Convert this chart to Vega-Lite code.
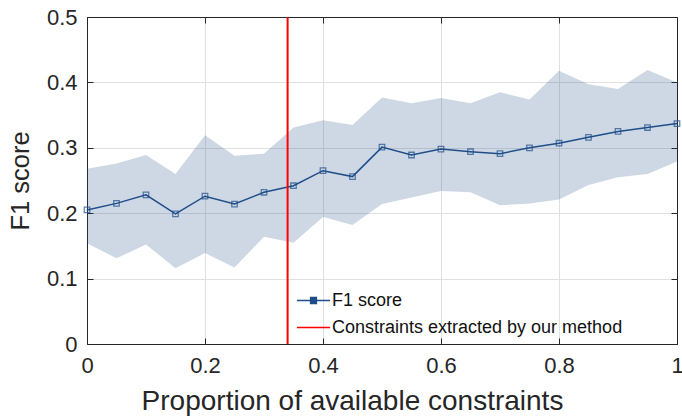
{
  "$schema": "https://vega.github.io/schema/vega-lite/v6.json",
  "width": 590,
  "height": 327,
  "autosize": {"type": "none"},
  "padding": {"left": 87, "top": 17, "right": 5, "bottom": 73},
  "background": "white",
  "config": {
    "font": "Liberation Sans",
    "view": {"stroke": null},
    "axis": {
      "labelFont": "Liberation Sans",
      "titleFont": "Liberation Sans",
      "labelFontSize": 22,
      "titleFontSize": 28,
      "titleFontWeight": "normal",
      "labelColor": "#262626",
      "titleColor": "#262626",
      "domainColor": "#262626",
      "tickColor": "#262626",
      "gridColor": "#e0e0e0",
      "gridWidth": 1,
      "tickSize": -6,
      "domainWidth": 1
    }
  },
  "datasets": {
    "f1": [
      {"x": 0.00, "f1": 0.205, "lo": 0.154, "hi": 0.268, "series": "F1 score"},
      {"x": 0.05, "f1": 0.215, "lo": 0.131, "hi": 0.276, "series": "F1 score"},
      {"x": 0.10, "f1": 0.228, "lo": 0.152, "hi": 0.289, "series": "F1 score"},
      {"x": 0.15, "f1": 0.199, "lo": 0.116, "hi": 0.260, "series": "F1 score"},
      {"x": 0.20, "f1": 0.226, "lo": 0.139, "hi": 0.319, "series": "F1 score"},
      {"x": 0.25, "f1": 0.214, "lo": 0.117, "hi": 0.288, "series": "F1 score"},
      {"x": 0.30, "f1": 0.232, "lo": 0.164, "hi": 0.291, "series": "F1 score"},
      {"x": 0.35, "f1": 0.242, "lo": 0.155, "hi": 0.331, "series": "F1 score"},
      {"x": 0.40, "f1": 0.265, "lo": 0.194, "hi": 0.342, "series": "F1 score"},
      {"x": 0.45, "f1": 0.256, "lo": 0.182, "hi": 0.335, "series": "F1 score"},
      {"x": 0.50, "f1": 0.301, "lo": 0.214, "hi": 0.377, "series": "F1 score"},
      {"x": 0.55, "f1": 0.289, "lo": 0.224, "hi": 0.368, "series": "F1 score"},
      {"x": 0.60, "f1": 0.298, "lo": 0.234, "hi": 0.376, "series": "F1 score"},
      {"x": 0.65, "f1": 0.294, "lo": 0.232, "hi": 0.368, "series": "F1 score"},
      {"x": 0.70, "f1": 0.291, "lo": 0.212, "hi": 0.385, "series": "F1 score"},
      {"x": 0.75, "f1": 0.300, "lo": 0.215, "hi": 0.374, "series": "F1 score"},
      {"x": 0.80, "f1": 0.307, "lo": 0.221, "hi": 0.418, "series": "F1 score"},
      {"x": 0.85, "f1": 0.316, "lo": 0.243, "hi": 0.397, "series": "F1 score"},
      {"x": 0.90, "f1": 0.325, "lo": 0.255, "hi": 0.390, "series": "F1 score"},
      {"x": 0.95, "f1": 0.331, "lo": 0.260, "hi": 0.419, "series": "F1 score"},
      {"x": 1.00, "f1": 0.337, "lo": 0.279, "hi": 0.400, "series": "F1 score"}
    ],
    "vline": [
      {"x": 0.34, "series": "Constraints extracted by our method"}
    ]
  },
  "resolve": {"axis": {"x": "independent", "y": "independent"}},
  "layer": [
    {
      "data": {"name": "f1"},
      "mark": {"type": "area", "fill": "#1f4e89", "opacity": 0.22},
      "encoding": {
        "x": {
          "field": "x", "type": "quantitative",
          "scale": {"domain": [0, 1], "nice": false, "zero": false},
          "axis": {"orient": "bottom", "values": [0, 0.2, 0.4, 0.6, 0.8, 1], "format": ".1~f", "labelFlush": false, "title": "Proportion of available constraints", "labelPadding": 17, "titlePadding": 11, "titleX": 265, "titleAlign": "center"}
        },
        "y": {
          "field": "lo", "type": "quantitative",
          "scale": {"domain": [0, 0.5], "nice": false},
          "axis": {"orient": "left", "values": [0, 0.1, 0.2, 0.3, 0.4, 0.5], "format": ".1~f", "labelFlush": false, "title": "F1 score", "titleFontSize": 25.5, "labelPadding": 16, "titlePadding": 13}
        },
        "y2": {"field": "hi"}
      }
    },
    {
      "data": {"name": "f1"},
      "mark": {"type": "line", "strokeWidth": 1.5},
      "encoding": {
        "x": {
          "field": "x", "type": "quantitative",
          "axis": {"orient": "top", "values": [0, 0.2, 0.4, 0.6, 0.8, 1], "labels": false, "grid": false, "title": null}
        },
        "y": {
          "field": "f1", "type": "quantitative",
          "axis": {"orient": "right", "values": [0, 0.1, 0.2, 0.3, 0.4, 0.5], "labels": false, "grid": false, "title": null}
        },
        "color": {
          "field": "series", "type": "nominal",
          "scale": {"domain": ["F1 score", "Constraints extracted by our method"], "range": ["#1f4e89", "#ff0000"]},
          "legend": {
            "title": null, "orient": "none", "legendX": 209, "legendY": 266,
            "labelFontSize": 18, "labelFont": "Liberation Sans", "labelColor": "#111111", "labelLimit": 400,
            "symbolSize": 1100, "symbolStrokeWidth": 1.3, "symbolFillColor": "transparent", "rowPadding": -1, "labelOffset": 1
          }
        },
        "shape": {
          "field": "series", "type": "nominal",
          "scale": {"domain": ["F1 score", "Constraints extracted by our method"], "range": ["M-1,0H-0.18M0.18,0H1M-0.18,-0.18H0.18V0.18H-0.18Z", "M-1,0H1"]},
          "legend": null
        }
      }
    },
    {
      "data": {"name": "f1"},
      "mark": {"type": "point", "shape": "square", "filled": false, "size": 30, "strokeWidth": 1.3, "color": "#1f4e89"},
      "encoding": {
        "x": {"field": "x", "type": "quantitative", "axis": null},
        "y": {"field": "f1", "type": "quantitative", "axis": null}
      }
    },
    {
      "data": {"name": "vline"},
      "mark": {"type": "rule", "strokeWidth": 2},
      "encoding": {
        "x": {"field": "x", "type": "quantitative", "axis": null},
        "color": {"field": "series", "type": "nominal"}
      }
    }
  ]
}
